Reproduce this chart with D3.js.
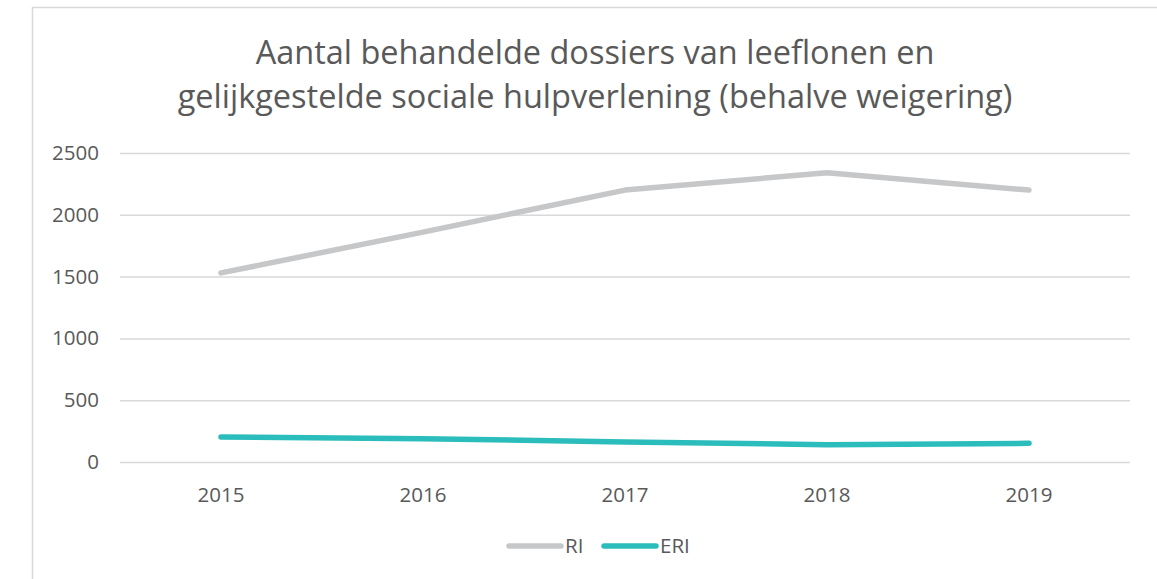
<!DOCTYPE html>
<html>
<head>
<meta charset="utf-8">
<script src="https://cdn.jsdelivr.net/npm/d3@7"></script>
<style>
  html, body { margin: 0; padding: 0; background: #fff; }
  svg { display: block; }
  text { font-family: "Open Sans", "Noto Sans", sans-serif; fill: #595959; }
</style>
</head>
<body>
<svg id="chart" width="1157" height="579"></svg>
<script>
// Data
const years = ["2015", "2016", "2017", "2018", "2019"];
const riValues = [1530, 1860, 2200, 2340, 2200];
const eriValues = [203, 189, 162, 140, 151];
const yTicks = [0, 500, 1000, 1500, 2000, 2500];
const seriesNames = ["RI", "ERI"];
const titleLines = [
  "Aantal behandelde dossiers van leeflonen en",
  "gelijkgestelde sociale hulpverlening (behalve weigering)"
];

const series = [
  { name: seriesNames[0], values: riValues, color: "#c6c7c9" },
  { name: seriesNames[1], values: eriValues, color: "#2bbdbb" }
];

const svg = d3.select("#chart");
const W = 1157, H = 579;
const plot = { left: 120, right: 1130, top: 153, bottom: 462 };

// Chart frame (top and left edges visible)
svg.append("path")
  .attr("d", `M32.5,${H} V7.5 H${W}`)
  .attr("fill", "none")
  .attr("stroke", "#d9d9d9")
  .attr("stroke-width", 1.5);

// Title
svg.append("g").selectAll("text")
  .data(titleLines)
  .join("text")
  .attr("x", 595)
  .attr("y", (d, i) => 64 + i * 44)
  .attr("text-anchor", "middle")
  .style("font-size", "32.5px")
  .text(d => d);

// Scales
const x = d3.scaleBand().domain(years).range([plot.left, plot.right]);
const xc = d => x(d) + x.bandwidth() / 2;
const y = d3.scaleLinear().domain([0, 2500]).range([plot.bottom, plot.top]);

// Gridlines + y labels
const yAxis = d3.axisLeft(y)
  .tickValues(yTicks)
  .tickSize(-(plot.right - plot.left))
  .tickPadding(21)
  .tickFormat(d3.format("d"));
const gy = svg.append("g")
  .attr("transform", `translate(${plot.left},0)`)
  .call(yAxis);
gy.select(".domain").remove();
gy.selectAll(".tick line").attr("stroke", "#d9d9d9").attr("stroke-width", 1.5);
gy.selectAll(".tick text").style("font-size", "20.5px").attr("fill", "#595959");

// X labels
const xAxis = d3.axisBottom(x).tickSize(0).tickPadding(25);
const gx = svg.append("g")
  .attr("transform", `translate(0,${plot.bottom})`)
  .call(xAxis);
gx.select(".domain").remove();
gx.selectAll(".tick text").style("font-size", "20.5px").attr("fill", "#595959");

// Lines
const line = d3.line()
  .x((d, i) => xc(years[i]))
  .y(d => y(d));

svg.append("g").selectAll("path")
  .data(series)
  .join("path")
  .attr("d", d => line(d.values))
  .attr("fill", "none")
  .attr("stroke", d => d.color)
  .attr("stroke-width", 5.5)
  .attr("stroke-linecap", "round")
  .attr("stroke-linejoin", "round");

// Legend
const legendX = [507, 602];
const lg = svg.append("g").selectAll("g")
  .data(series)
  .join("g")
  .attr("transform", (d, i) => `translate(${legendX[i]},546)`);
lg.append("line")
  .attr("x1", 2).attr("x2", 54)
  .attr("stroke", d => d.color)
  .attr("stroke-width", 5.5)
  .attr("stroke-linecap", "round");
lg.append("text")
  .attr("x", 58)
  .attr("dy", "0.35em")
  .style("font-size", "20.5px")
  .text(d => d.name);
</script>
</body>
</html>
